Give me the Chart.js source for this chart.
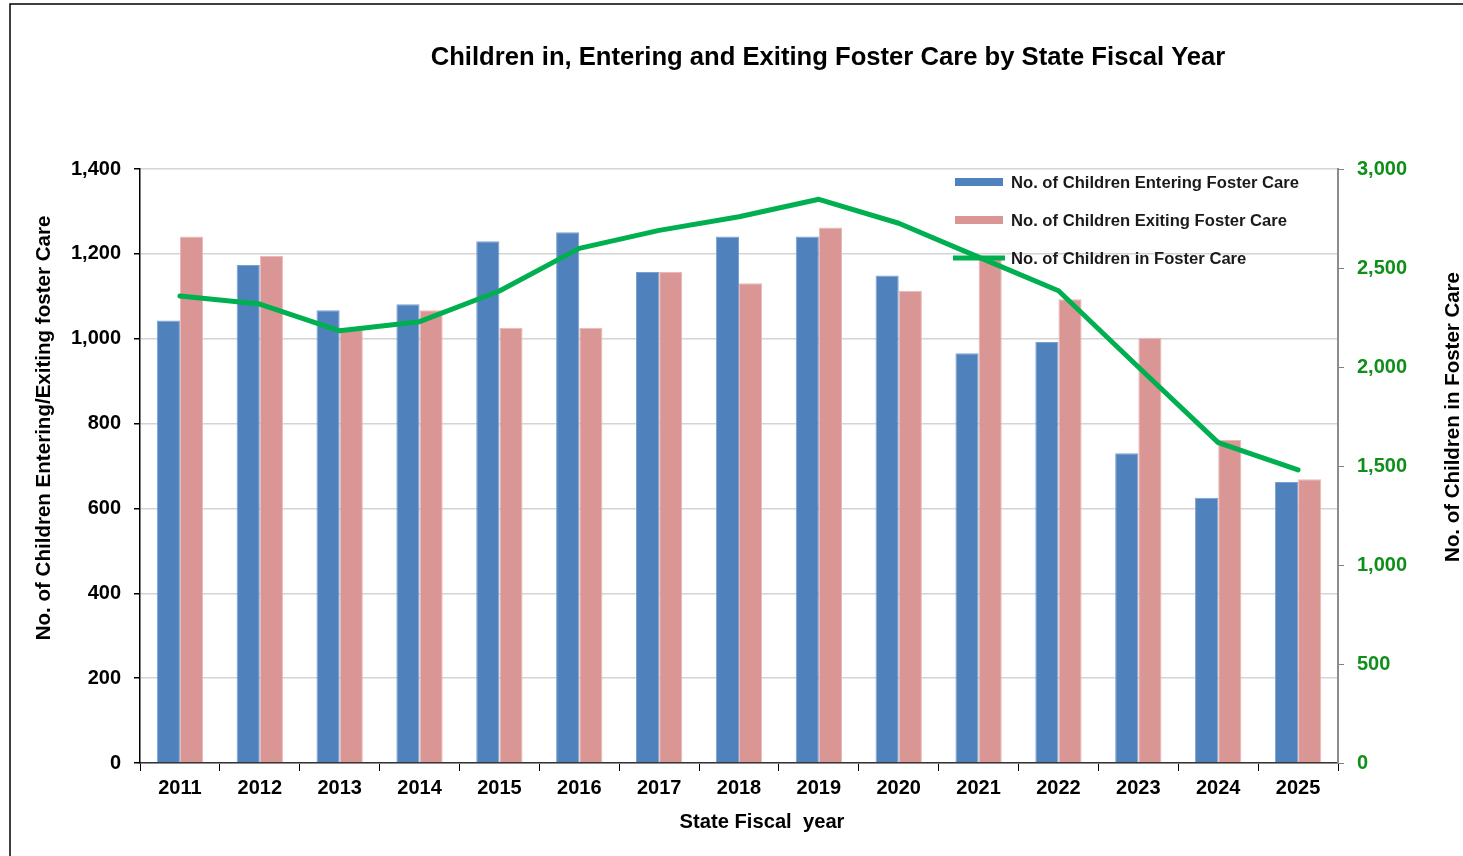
<!DOCTYPE html>
<html><head><meta charset="utf-8">
<script src="https://cdn.jsdelivr.net/npm/chart.js@4.4.1/dist/chart.umd.min.js"></script>
<style>html,body{margin:0;padding:0;background:#fff;overflow:hidden}#wrap{position:relative;width:1463px;height:856px}canvas{display:block}</style>
</head><body><div id="wrap"><canvas id="c" width="1463" height="856"></canvas></div>
<script>
// ---- data ----
const years = ['2011','2012','2013','2014','2015','2016','2017','2018','2019','2020','2021','2022','2023','2024','2025'];
const entering = [1043, 1174, 1067, 1081, 1230, 1251, 1157, 1241, 1241, 1149, 966, 992, 730, 625, 662];
const exiting  = [1241, 1195, 1026, 1067, 1026, 1026, 1157, 1131, 1262, 1113, 1192, 1093, 1002, 761, 669];
const inCare   = [2359, 2318, 2183, 2229, 2384, 2599, 2690, 2759, 2847, 2726, 2555, 2385, 2000, 1618, 1480];
const leftTicks = [0, 200, 400, 600, 800, 1000, 1200, 1400];
const rightTicks = [0, 500, 1000, 1500, 2000, 2500, 3000];
const seriesNames = ['No. of Children Entering Foster Care', 'No. of Children Exiting Foster Care', 'No. of Children in Foster Care'];
const titleText = 'Children in, Entering and Exiting Foster Care by State Fiscal Year';
const xTitle = 'State Fiscal  year';
const yTitle = 'No. of Children Entering/Exiting foster Care';
const y1Title = 'No. of Children in Foster Care';

const BLUE = '#4f81bd', PINK = '#d99694', GREEN = '#00b050';
const FONT = "'Liberation Sans', Arial, Helvetica, sans-serif";
const fmt = v => v.toLocaleString('en-US');

function fitSize(ctx, text, width, weight) {
  ctx.font = weight + ' 100px ' + FONT;
  return 100 * width / ctx.measureText(text).width;
}

const decor = {
  id: 'decor',
  beforeDraw(chart) {
    const ctx = chart.ctx;
    ctx.save();
    ctx.fillStyle = '#fff';
    ctx.fillRect(0, 0, chart.width, chart.height);
    ctx.strokeStyle = '#000';
    ctx.lineWidth = 1.5;
    ctx.beginPath();
    ctx.moveTo(10, 856); ctx.lineTo(10, 4); ctx.lineTo(1463, 4);
    ctx.stroke();
    ctx.restore();
  },
  afterDraw(chart) {
    const ctx = chart.ctx;
    ctx.save();
    ctx.fillStyle = '#000';
    ctx.textBaseline = 'middle';
    ctx.textAlign = 'center';
    // title
    let s = fitSize(ctx, titleText, 795, 'bold');
    ctx.font = 'bold ' + s + 'px ' + FONT;
    ctx.fillText(titleText, 828, 58);
    // x title
    s = fitSize(ctx, xTitle, 165, 'bold');
    ctx.font = 'bold ' + s + 'px ' + FONT;
    ctx.fillText(xTitle, 762, 822);
    // left y title
    ctx.save();
    s = fitSize(ctx, yTitle, 425, 'bold');
    ctx.font = 'bold ' + s + 'px ' + FONT;
    ctx.translate(44, 428); ctx.rotate(-Math.PI / 2);
    ctx.fillText(yTitle, 0, 0);
    ctx.restore();
    // right y title
    ctx.save();
    s = fitSize(ctx, y1Title, 290, 'bold');
    ctx.font = 'bold ' + s + 'px ' + FONT;
    ctx.translate(1453, 417); ctx.rotate(-Math.PI / 2);
    ctx.fillText(y1Title, 0, 0);
    ctx.restore();
    // legend
    const rows = [182, 220, 258];
    const cols = [BLUE, PINK, GREEN];
    ctx.textAlign = 'left';
    s = fitSize(ctx, seriesNames[0], 288, 'bold');
    ctx.font = 'bold ' + s + 'px ' + FONT;
    for (let i = 0; i < 3; i++) {
      ctx.fillStyle = cols[i];
      if (i < 2) ctx.fillRect(955, rows[i] - 4, 48, 8);
      else ctx.fillRect(953, rows[i] - 2.5, 52, 5);
      ctx.fillStyle = '#1a1a1a';
      ctx.fillText(seriesNames[i], 1011, rows[i] + 1);
    }
    ctx.restore();
  }
};

new Chart(document.getElementById('c'), {
  data: {
    labels: years,
    datasets: [
      { type: 'line', label: seriesNames[2], data: inCare, yAxisID: 'y1', borderColor: GREEN, backgroundColor: GREEN,
        borderWidth: 5, pointRadius: 0, tension: 0, order: 0, borderJoinStyle: 'round', borderCapStyle: 'round' },
      { type: 'bar', label: seriesNames[0], data: entering, yAxisID: 'y', backgroundColor: BLUE,
        borderColor: '#7d9fcf', borderWidth: 1, categoryPercentage: 0.58, barPercentage: 1, order: 1 },
      { type: 'bar', label: seriesNames[1], data: exiting, yAxisID: 'y', backgroundColor: PINK,
        borderColor: '#eab9b7', borderWidth: 1, categoryPercentage: 0.58, barPercentage: 1, order: 1 }
    ]
  },
  options: {
    responsive: false,
    animation: false,
    devicePixelRatio: 1,
    layout: { padding: { top: 169, left: 0, right: 0, bottom: 0 } },
    plugins: { legend: { display: false }, title: { display: false }, tooltip: { enabled: false } },
    scales: {
      x: {
        offset: true,
        grid: { offset: true, drawOnChartArea: false, drawTicks: true, tickLength: 8, tickColor: '#000', lineWidth: 1 },
        border: { color: '#333', width: 1.5 },
        ticks: { color: '#000', font: { family: FONT, size: 20, weight: 'bold' }, padding: 5, maxRotation: 0 },
        afterFit(scale) { scale.height = 93; }
      },
      y: {
        position: 'left', min: 0, max: 1400,
        afterBuildTicks(scale) { scale.ticks = leftTicks.map(v => ({ value: v })); },
        grid: { color: '#d4d4d4', lineWidth: 1.5, tickLength: 6, tickColor: '#000' },
        border: { color: '#000', width: 1.5 },
        ticks: { color: '#000', font: { family: FONT, size: 20, weight: 'bold' }, padding: 13, callback: v => fmt(v) },
        afterFit(scale) { scale.width = 140; }
      },
      y1: {
        position: 'right', min: 0, max: 3000,
        afterBuildTicks(scale) { scale.ticks = rightTicks.map(v => ({ value: v })); },
        grid: { drawOnChartArea: false, tickLength: 6, tickColor: '#808080' },
        border: { color: '#8c8c8c', width: 2 },
        ticks: { color: '#0f8f1a', font: { family: FONT, size: 20, weight: 'bold' }, padding: 13, callback: v => fmt(v) },
        afterFit(scale) { scale.width = 125; }
      }
    }
  },
  plugins: [decor]
});
</script>
</body></html>
